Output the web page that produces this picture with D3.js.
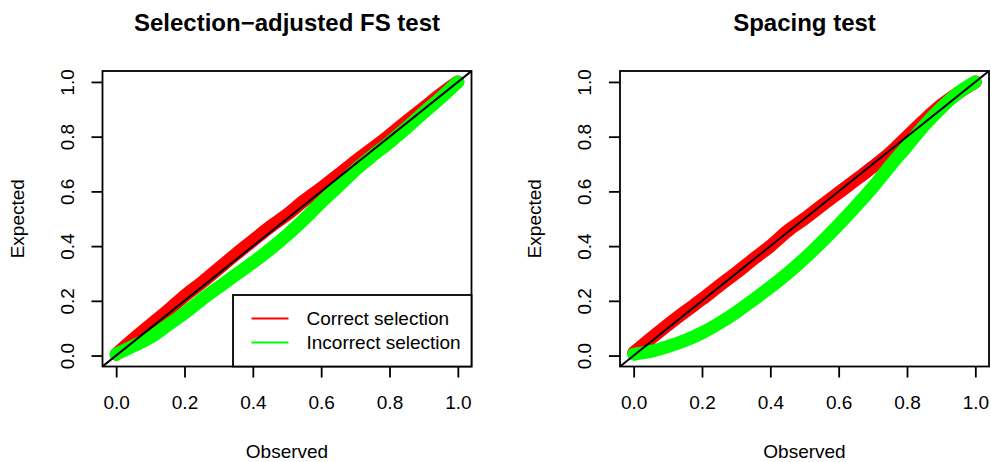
<!DOCTYPE html>
<html>
<head>
<meta charset="utf-8">
<script src="https://cdn.jsdelivr.net/npm/d3@7"></script>
<style>
  html, body { margin: 0; padding: 0; background: #fff; }
  svg { display: block; font-family: "Liberation Sans", Arial, Helvetica, sans-serif; }
</style>
</head>
<body>
<svg id="chart" width="991" height="462"></svg>
<script>
// ---------------- data ----------------
const titles = ["Selection\u2212adjusted FS test", "Spacing test"];
const seriesNames = ["Correct selection", "Incorrect selection"];
const seriesColors = ["#ff0000", "#00ff00"];
const xLabel = "Observed";
const yLabel = "Expected";
const tickValues = [0, 0.2, 0.4, 0.6, 0.8, 1.0];
const tickLabels = ["0.0", "0.2", "0.4", "0.6", "0.8", "1.0"];

// observed quantiles (x) shared by all series
const observed = [0, 0.05, 0.1, 0.15, 0.2, 0.25, 0.3, 0.35, 0.4, 0.45, 0.5,
                  0.55, 0.6, 0.65, 0.7, 0.75, 0.8, 0.85, 0.9, 0.95, 1.0];
// Selection-adjusted FS test
const fsCorrect   = [0.005, 0.060, 0.112, 0.163, 0.218, 0.266, 0.318, 0.370, 0.420, 0.470, 0.515,
                     0.566, 0.612, 0.660, 0.710, 0.757, 0.805, 0.856, 0.905, 0.955, 1.0];
const fsIncorrect = [0.005, 0.035, 0.066, 0.110, 0.155, 0.204, 0.250, 0.295, 0.340, 0.388, 0.440,
                     0.498, 0.560, 0.618, 0.678, 0.730, 0.779, 0.832, 0.888, 0.942, 1.0];
// Spacing test
const spCorrect   = [0.010, 0.062, 0.112, 0.160, 0.206, 0.255, 0.302, 0.352, 0.400, 0.455, 0.500,
                     0.548, 0.595, 0.642, 0.690, 0.740, 0.800, 0.860, 0.915, 0.960, 1.0];
const spIncorrect = [0.005, 0.015, 0.033, 0.055, 0.083, 0.118, 0.158, 0.203, 0.250, 0.300, 0.355,
                     0.415, 0.478, 0.545, 0.615, 0.692, 0.765, 0.840, 0.905, 0.960, 1.0];

const panels = [
  { title: titles[0], series: [fsCorrect, fsIncorrect], legend: true,  left: 102.5 },
  { title: titles[1], series: [spCorrect, spIncorrect], legend: false, left: 620 }
];

// ---------------- layout ----------------
const plotW = 369, plotTop = 71, plotBottom = 366.5;
const fontSize = 19, titleSize = 24;
const svg = d3.select("#chart");

panels.forEach((p, pi) => {
  const x = d3.scaleLinear().domain([-0.04, 1.04]).range([p.left, p.left + plotW]);
  const y = d3.scaleLinear().domain([-0.04, 1.04]).range([plotBottom, plotTop]);
  const g = svg.append("g");

  const clipId = "clip" + pi;
  svg.append("defs").append("clipPath").attr("id", clipId)
    .append("rect").attr("x", p.left).attr("y", plotTop).attr("width", plotW).attr("height", plotBottom - plotTop);

  const plotG = g.append("g").attr("clip-path", `url(#${clipId})`);
  const line = d3.line().curve(d3.curveCatmullRom.alpha(0.5))
    .x((d, i) => x(observed[i])).y(d => y(d));

  p.series.forEach((s, si) => {
    plotG.append("path")
      .datum(s)
      .attr("d", line)
      .attr("fill", "none")
      .attr("stroke", seriesColors[si])
      .attr("stroke-width", 13)
      .attr("stroke-linejoin", "round")
      .attr("stroke-linecap", "round");
  });

  // diagonal abline(0,1)
  plotG.append("line")
    .attr("x1", x(-0.04)).attr("y1", y(-0.04))
    .attr("x2", x(1.04)).attr("y2", y(1.04))
    .attr("stroke", "#000").attr("stroke-width", 2);

  // box
  g.append("rect")
    .attr("x", p.left).attr("y", plotTop).attr("width", plotW).attr("height", plotBottom - plotTop)
    .attr("fill", "none").attr("stroke", "#000").attr("stroke-width", 1.8);

  // x axis
  const xAxis = g.append("g").attr("transform", `translate(0,${plotBottom})`)
    .call(d3.axisBottom(x).tickValues(tickValues).tickFormat((d, i) => tickLabels[i]).tickSize(11).tickPadding(18));
  xAxis.select(".domain").remove();
  xAxis.selectAll("line").attr("stroke", "#000").attr("stroke-width", 1.8);
  xAxis.selectAll("text").attr("font-size", fontSize).attr("font-family", "Liberation Sans, Arial, sans-serif").attr("fill", "#000");

  // y axis
  const yAxis = g.append("g").attr("transform", `translate(${p.left},0)`)
    .call(d3.axisLeft(y).tickValues(tickValues).tickFormat((d, i) => tickLabels[i]).tickSize(11));
  yAxis.select(".domain").remove();
  yAxis.selectAll("line").attr("stroke", "#000").attr("stroke-width", 1.8);
  yAxis.selectAll("text")
    .attr("font-size", fontSize).attr("font-family", "Liberation Sans, Arial, sans-serif").attr("fill", "#000")
    .attr("x", 0).attr("dy", 0).attr("text-anchor", "middle")
    .attr("transform", "translate(-29,0) rotate(-90)");

  // titles and axis labels
  const cx = p.left + plotW / 2;
  g.append("text").attr("x", cx).attr("y", 31).attr("text-anchor", "middle")
    .attr("font-size", titleSize).attr("font-weight", "bold").text(p.title);
  g.append("text").attr("x", cx).attr("y", 458).attr("text-anchor", "middle")
    .attr("font-size", fontSize).text(xLabel);
  g.append("text").attr("text-anchor", "middle").attr("font-size", fontSize)
    .attr("transform", `translate(${p.left - 79},${(plotTop + plotBottom) / 2}) rotate(-90)`)
    .text(yLabel);

  // legend (bottom right)
  if (p.legend) {
    const lw = 238.5, lh = 71.5;
    const lx = p.left + plotW - lw, ly = plotBottom - lh;
    const lg = g.append("g");
    lg.append("rect").attr("x", lx).attr("y", ly).attr("width", lw).attr("height", lh)
      .attr("fill", "#fff").attr("stroke", "#000").attr("stroke-width", 1.8);
    seriesNames.forEach((name, i) => {
      const yy = ly + 23.5 + i * 24;
      lg.append("line").attr("x1", lx + 18.5).attr("x2", lx + 55.5)
        .attr("y1", yy).attr("y2", yy)
        .attr("stroke", seriesColors[i]).attr("stroke-width", 2);
      lg.append("text").attr("x", lx + 73.5).attr("y", yy + 6.8)
        .attr("font-size", fontSize).text(name);
    });
  }
});
</script>
</body>
</html>
